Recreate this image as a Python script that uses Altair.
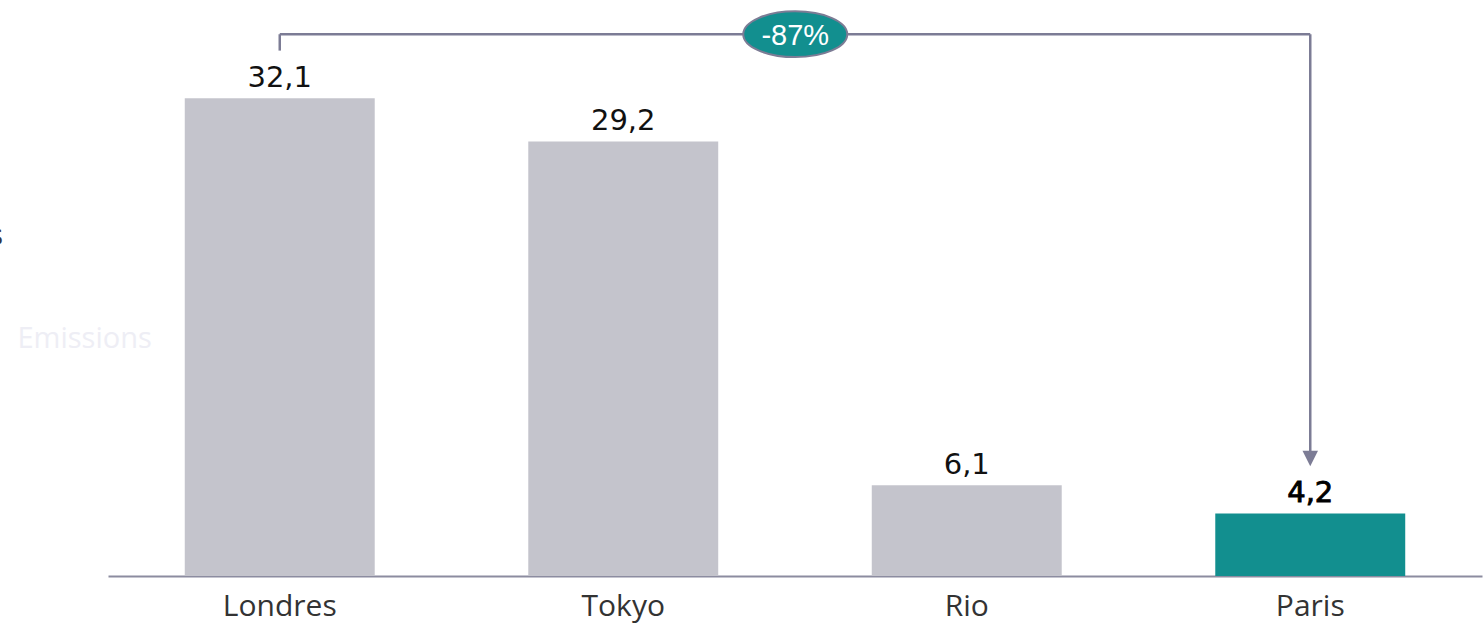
import altair as alt
import pandas as pd

cities = ["Londres", "Tokyo", "Rio", "Paris"]
values = [32.1, 29.2, 6.1, 4.2]
labels = ["32,1", "29,2", "6,1", "4,2"]
highlight = [False, False, False, True]
change_label = "-87%"
y_title = "Emissions"

df = pd.DataFrame({"city": cities, "value": values, "label": labels, "hl": highlight})

GREY = "#c4c4cc"
TEAL = "#128f8f"
LINE = "#7c7c95"
YMAX = 38.7
BRACKET_Y = 36.4
LONDRES_TOP = 35.3
ARROW_END = 8.3
ARROW_TIP = 7.9

xscale = alt.Scale(domain=cities, paddingInner=0.447, paddingOuter=0.2235)
xenc = alt.X("city:N", scale=xscale,
             axis=alt.Axis(title=None, labelAngle=0, labelFont="Open Sans", labelFontSize=30,
                           labelColor="#333333", labelPadding=15, ticks=False,
                           domainColor="#8c8ca0", domainWidth=2))
yscale = alt.Scale(domain=[0, YMAX])
yenc = alt.Y("value:Q", scale=yscale,
             axis=alt.Axis(title=y_title, titleAngle=0, titleAlign="left", titleBaseline="middle",
                           titleX=-91, titleY=338, titleColor="#eeeef5", titleFont="Open Sans",
                           titleFontSize=29, titleFontWeight="normal",
                           labels=False, ticks=False, domain=False, grid=False))

def X(field):
    return alt.X(field, scale=xscale)

def Y(field):
    return alt.Y(field, scale=yscale)

base = alt.Chart(df)

bars = base.mark_bar().encode(
    x=xenc, y=yenc,
    color=alt.condition("datum.hl", alt.value(TEAL), alt.value(GREY)),
)

text_norm = base.transform_filter("!datum.hl").mark_text(
    font="DejaVu Sans", fontSize=29, baseline="alphabetic", dy=-11, color="#111111"
).encode(x=X("city:N"), y=Y("value:Q"), text="label:N")

text_hl = base.transform_filter("datum.hl").mark_text(
    font="DejaVu Sans", fontSize=29, baseline="alphabetic", dy=-11, color="#000000",
    stroke="#000000", strokeWidth=0.9
).encode(x=X("city:N"), y=Y("value:Q"), text="label:N")

ann = pd.DataFrame({
    "x1": [cities[0], cities[0], cities[3]],
    "x2": [cities[0], cities[3], cities[3]],
    "y1": [LONDRES_TOP, BRACKET_Y, BRACKET_Y],
    "y2": [BRACKET_Y, BRACKET_Y, ARROW_END],
})
rules = alt.Chart(ann).mark_rule(color=LINE, strokeWidth=2.5).encode(
    x=X("x1:N"), x2="x2:N",
    y=Y("y1:Q"), y2="y2:Q",
)

arrow = alt.Chart(pd.DataFrame({"city": [cities[3]], "v": [ARROW_TIP]})).mark_point(
    shape="M-1,-1 L1,-1 L0,1 Z", filled=True, opacity=1, color=LINE, size=240
).encode(x=X("city:N"), y=Y("v:Q"))

lab_df = pd.DataFrame({"city": [cities[1]], "v": [BRACKET_Y], "t": [change_label]})
ellipse = alt.Chart(lab_df).mark_point(
    shape="M-1,0 A1,0.44 0 1,1 1,0 A1,0.44 0 1,1 -1,0 Z", filled=True, opacity=1,
    fill=TEAL, stroke=LINE, strokeWidth=2, size=10816, xOffset=172
).encode(x=X("city:N"), y=Y("v:Q"))
elabel = alt.Chart(lab_df).mark_text(
    font="Liberation Sans", fontSize=29, color="white", baseline="middle", xOffset=172, dy=2
).encode(x=X("city:N"), y=Y("v:Q"), text="t:N")

cut = alt.Chart(pd.DataFrame({"t": ["s"]})).mark_text(
    font="DejaVu Sans", fontSize=28, color="#333344", align="right", baseline="middle"
).encode(x=alt.value(-105), y=alt.value(237), text="t:N")

chart = alt.layer(bars, text_norm, text_hl, rules, arrow, ellipse, elabel, cut).properties(
    width=1374, height=576,
    autosize=alt.AutoSizeParams(type="none"),
    padding={"left": 108, "top": 0, "right": 2, "bottom": 47},
).configure_view(stroke=None)

chart.save("out.html", embed_options={"renderer": "svg", "actions": False})
